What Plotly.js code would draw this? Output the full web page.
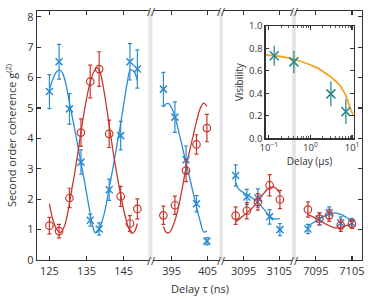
<!DOCTYPE html>
<html>
<head>
<meta charset="utf-8">
<script src="https://cdn.plot.ly/plotly-3.0.1.min.js"></script>
<style>html,body{margin:0;padding:0;background:#fff;}#chart{width:374px;height:299px;}</style>
</head>
<body>
<div id="chart"></div>
<script>
// ---- Segment 1 (125–149 ns) ----
const seg1Delay = [125, 127.6, 130.4, 133.5, 136.0, 138.4, 141.1, 144.2, 146.7, 148.7];
const seg1Blue = [5.54, 6.52, 4.97, 3.22, 1.31, 1.02, 2.31, 4.09, 6.52, 6.28];
const seg1BlueErr = [0.56, 0.57, 0.5, 0.4, 0.2, 0.2, 0.35, 0.47, 0.6, 0.63];
const seg1Red = [1.13, 0.95, 2.04, 4.19, 5.87, 6.28, 4.15, 2.09, 1.20, 1.68];
const seg1RedErr = [0.27, 0.22, 0.32, 0.45, 0.54, 0.57, 0.45, 0.33, 0.26, 0.33];
const seg1FitBlueT = [125, 126, 127, 127.8, 128.6, 129.5, 130.5, 131.5, 132.5, 133.5, 134.5, 135.5, 136.5, 137.3, 138, 139, 140, 141, 142, 143, 144, 145, 146, 146.8, 147.8, 148.7];
const seg1FitBlue = [5.6, 5.97, 6.2, 6.25, 6.13, 5.75, 5.1, 4.5, 3.85, 3.2, 2.55, 1.85, 1.2, 0.9, 0.93, 1.2, 1.65, 2.3, 2.95, 3.65, 4.35, 5.1, 5.85, 6.25, 6.2, 5.9];
const seg1FitRedT = [125, 126, 127, 127.9, 129, 130, 131, 132, 133, 134, 135, 136, 137, 137.8, 138.6, 139.5, 140.5, 141.5, 142.5, 143.5, 144.5, 145.5, 146.5, 147.3, 148, 148.7];
const seg1FitRed = [1.85, 1.3, 1.0, 0.9, 1.1, 1.6, 2.3, 3.0, 3.8, 4.6, 5.3, 5.85, 6.2, 6.33, 6.2, 5.7, 4.95, 4.1, 3.3, 2.6, 1.95, 1.4, 1.0, 0.88, 0.95, 1.2];

// ---- Segment 2 (393–405 ns) ----
const seg2Delay = [392.7, 395.9, 399, 401.9, 404.8];
const seg2Blue = [5.62, 4.70, 3.30, 1.85, 0.62];
const seg2BlueErr = [0.55, 0.5, 0.45, 0.27, 0.12];
const seg2Red = [1.47, 1.80, 2.94, 3.80, 4.34];
const seg2RedErr = [0.3, 0.3, 0.36, 0.32, 0.45];
const seg2FitT = [392.7, 393.4, 394.1, 394.8, 395.9, 397, 398, 399, 400, 401, 402, 403, 403.9, 404.8];
const seg2FitBlue = [5.03, 5.13, 5.15, 5.05, 4.72, 4.2, 3.7, 3.2, 2.7, 2.2, 1.7, 1.25, 0.92, 0.95];
const seg2FitRed = [1.1, 0.92, 0.89, 0.97, 1.3, 1.8, 2.4, 3.05, 3.6, 4.1, 4.6, 5.0, 5.16, 5.05];

// ---- Segment 3 (3093–3105 ns) ----
const seg3Delay = [3092.75, 3095.9, 3099, 3102.3, 3105.2];
const seg3Blue = [2.78, 2.07, 2.04, 1.42, 1.0];
const seg3BlueErr = [0.35, 0.25, 0.3, 0.24, 0.2];
const seg3Red = [1.46, 1.62, 1.91, 2.46, 1.99];
const seg3RedErr = [0.29, 0.27, 0.27, 0.35, 0.3];
const seg3FitT = [3092.75, 3093.5, 3094.5, 3095.9, 3097.5, 3099, 3100.5, 3102.3, 3103.6, 3105.2];
const seg3FitBlue = [2.55, 2.35, 2.25, 2.15, 2.03, 1.9, 1.7, 1.45, 1.35, 1.36];
const seg3FitRed = [1.27, 1.32, 1.42, 1.55, 1.72, 1.93, 2.17, 2.38, 2.4, 2.2];

// ---- Segment 4 (7093–7105 ns) ----
const seg4Delay = [7092.8, 7096, 7098.7, 7101.9, 7105];
const seg4Blue = [1.02, 1.35, 1.55, 1.22, 1.22];
const seg4BlueErr = [0.15, 0.2, 0.2, 0.2, 0.15];
const seg4Red = [1.66, 1.36, 1.47, 1.14, 1.19];
const seg4RedErr = [0.25, 0.2, 0.2, 0.2, 0.15];
const seg4FitT = [7092.8, 7094.5, 7096, 7097.5, 7099, 7100.3, 7101.9, 7103.5, 7105.2];
const seg4FitBlue = [1.11, 1.24, 1.35, 1.45, 1.52, 1.55, 1.5, 1.4, 1.27];
const seg4FitRed = [1.49, 1.4, 1.31, 1.2, 1.11, 1.06, 1.07, 1.13, 1.21];

// ---- Inset: visibility vs delay (µs) ----
const visDelay = [0.135, 0.4, 3.1, 7.1];
const visibility = [0.735, 0.68, 0.395, 0.237];
const visErr = [0.09, 0.1, 0.11, 0.11];
const visFitDelay = [0.083, 0.135, 0.25, 0.42, 0.7, 1.0, 1.5, 2.0, 3.0, 4.0, 5.0, 6.0, 7.0, 8.0, 9.0, 10.6];
const visFit = [0.742, 0.735, 0.72, 0.70, 0.675, 0.653, 0.625, 0.595, 0.55, 0.51, 0.475, 0.43, 0.385, 0.33, 0.27, 0.21];

// ---- Axis tick labels ----
const seg1Ticks = [125, 135, 145];
const seg2Ticks = [395, 405];
const seg3Ticks = [3095, 3105];
const seg4Ticks = [7095, 7105];
const yTicks = [0, 1, 2, 3, 4, 5, 6, 7, 8];
const visXTicks = [0.1, 1, 10];
const visXTickText = ['10<sup>−1</sup>', '10<sup>0</sup>', '10<sup>1</sup>'];
const visXMinor = [0.2,0.3,0.4,0.5,0.6,0.7,0.8,0.9,2,3,4,5,6,7,8,9];

const BLUE = '#2b8cd1', RED = '#c8372d', TEAL = '#2f8b8b', ORANGE = '#f4a322', AX = '#333';
const FONT = 'Open Sans, Noto Sans, sans-serif';

const segs = [
  {ax:'x',  d:seg1Delay, b:seg1Blue, be:seg1BlueErr, r:seg1Red, re:seg1RedErr, ftb:seg1FitBlueT, fb:seg1FitBlue, ftr:seg1FitRedT, fr:seg1FitRed},
  {ax:'x2', d:seg2Delay, b:seg2Blue, be:seg2BlueErr, r:seg2Red, re:seg2RedErr, ftb:seg2FitT, fb:seg2FitBlue, ftr:seg2FitT, fr:seg2FitRed},
  {ax:'x3', d:seg3Delay, b:seg3Blue, be:seg3BlueErr, r:seg3Red, re:seg3RedErr, ftb:seg3FitT, fb:seg3FitBlue, ftr:seg3FitT, fr:seg3FitRed},
  {ax:'x4', d:seg4Delay, b:seg4Blue, be:seg4BlueErr, r:seg4Red, re:seg4RedErr, ftb:seg4FitT, fb:seg4FitBlue, ftr:seg4FitT, fr:seg4FitRed}
];

const traces = [];
segs.forEach(s => {
  traces.push({x:s.ftb, y:s.fb, xaxis:s.ax, yaxis:'y', mode:'lines', line:{color:BLUE, width:1.3, shape:'spline'}, hoverinfo:'skip'});
  traces.push({x:s.ftr, y:s.fr, xaxis:s.ax, yaxis:'y', mode:'lines', line:{color:RED, width:1.3, shape:'spline'}, hoverinfo:'skip'});
  traces.push({x:s.d, y:s.b, xaxis:s.ax, yaxis:'y', mode:'markers',
    marker:{symbol:'x-thin', size:7, color:BLUE, line:{color:BLUE, width:1.5}},
    error_y:{type:'data', array:s.be, visible:true, color:BLUE, thickness:1.2, width:2}});
  traces.push({x:s.d, y:s.r, xaxis:s.ax, yaxis:'y', mode:'markers',
    marker:{symbol:'circle-open', size:7.5, color:RED, line:{color:RED, width:1.2}},
    error_y:{type:'data', array:s.re, visible:true, color:RED, thickness:1.2, width:2}});
});
// right-hand mirror axis holder
traces.push({x:[], y:[], xaxis:'x4', yaxis:'y2', mode:'markers', showlegend:false, hoverinfo:'skip'});
// inset
traces.push({x:visFitDelay, y:visFit, xaxis:'x5', yaxis:'y3', mode:'lines', line:{color:ORANGE, width:1.8, shape:'spline'}, hoverinfo:'skip'});
traces.push({x:visDelay, y:visibility, xaxis:'x5', yaxis:'y3', mode:'markers',
  marker:{symbol:'x-thin', size:9, color:TEAL, line:{color:TEAL, width:1.6}},
  error_y:{type:'data', array:visErr, visible:true, color:TEAL, thickness:1.3, width:0}});

const W = 374, H = 299, ML = 37, MR = 12, MT = 11, MB = 39;
const PW = W - ML - MR, PH = H - MT - MB;
const fx = px => (px - ML) / PW;
const fy = py => (H - MB - py) / PH;

const baseX = {
  showline:true, linecolor:AX, linewidth:1.3, ticks:'inside', ticklen:4, tickwidth:1.2, tickcolor:AX,
  mirror:'ticks', showgrid:false, zeroline:false, anchor:'y', tickmode:'array',
  tickfont:{family:FONT, size:11, color:AX}
};
const layout = {
  width:W, height:H, margin:{l:ML, r:MR, t:MT, b:MB},
  paper_bgcolor:'#fff', plot_bgcolor:'rgba(0,0,0,0)', showlegend:false,
  font:{family:FONT, color:AX},
  xaxis: Object.assign({}, baseX, {domain:[fx(37), fx(148.5)], range:[121.65, 151.7], tickvals:seg1Ticks}),
  xaxis2: Object.assign({}, baseX, {domain:[fx(152.5), fx(219.5)], range:[389.67, 408.3], tickvals:seg2Ticks}),
  xaxis3: Object.assign({}, baseX, {domain:[fx(223), fx(292)], range:[3089.2, 3108.6], tickvals:seg3Ticks}),
  xaxis4: Object.assign({}, baseX, {domain:[fx(296), fx(362)], range:[7089.5, 7107.8], tickvals:seg4Ticks}),
  yaxis: {
    domain:[0,1], anchor:'x', range:[0, 8.19], tickmode:'array', tickvals:yTicks,
    showline:true, linecolor:AX, linewidth:1.3, ticks:'inside', ticklen:4, tickwidth:1.2, tickcolor:AX,
    showgrid:false, zeroline:false, tickfont:{family:FONT, size:11, color:AX},
    title:{text:'Second order coherence g<sup>(2)</sup>', font:{family:FONT, size:11, color:AX}, standoff:8}
  },
  yaxis2: {
    overlaying:'y', anchor:'x4', side:'right', range:[0, 8.19], tickmode:'array', tickvals:yTicks,
    showline:true, linecolor:AX, linewidth:1.3, ticks:'inside', ticklen:4, tickwidth:1.2, tickcolor:AX,
    showticklabels:false, showgrid:false, zeroline:false
  },
  xaxis5: {
    type:'log', domain:[fx(265.5), fx(353.5)], anchor:'y3', range:[-1.08, 1.035],
    tickmode:'array', tickvals:visXTicks, ticktext:visXTickText,
    showline:true, linecolor:AX, linewidth:1.2, ticks:'inside', ticklen:3.5, tickwidth:1.1, tickcolor:AX,
    mirror:'ticks', showgrid:false, zeroline:false, tickfont:{family:FONT, size:9.5, color:AX},
    minor:{tickmode:'array', tickvals:visXMinor, ticks:'inside', ticklen:2, tickwidth:0.8, tickcolor:AX},
    title:{text:'Delay (µs)', font:{family:FONT, size:10, color:AX}, standoff:2}
  },
  yaxis3: {
    domain:[fy(138.3), fy(26)], anchor:'x5', range:[0, 1], dtick:0.2, tickformat:'.1f',
    showline:true, linecolor:AX, linewidth:1.2, ticks:'inside', ticklen:3.5, tickwidth:1.1, tickcolor:AX,
    mirror:'ticks', showgrid:false, zeroline:false, tickfont:{family:FONT, size:9.5, color:AX},
    title:{text:'Visibility', font:{family:FONT, size:10, color:AX}, standoff:3}
  },
  shapes: [[148.5,152.5],[219.5,223],[292,296]].map(b => ({
    type:'rect', xref:'paper', yref:'paper', x0:fx(b[0]), x1:fx(b[1]), y0:0, y1:1,
    fillcolor:'#e6e6e6', line:{width:0}, layer:'below'
  })),
  annotations: []
};
[150.5, 221.3, 294].forEach(px => {
  [0, 1].forEach(yy => layout.annotations.push({
    xref:'paper', yref:'paper', x:fx(px), y:yy, text:'//', showarrow:false,
    xanchor:'center', yanchor:'middle', font:{family:FONT, size:11, color:AX}
  }));
});
layout.annotations.push({
  xref:'paper', yref:'paper', x:fx(200), y:fy(288), text:'Delay τ (ns)', showarrow:false,
  xanchor:'center', yanchor:'middle', font:{family:FONT, size:11, color:AX}
});

Plotly.newPlot('chart', traces, layout, {displayModeBar:false, staticPlot:true});
</script>
</body>
</html>
